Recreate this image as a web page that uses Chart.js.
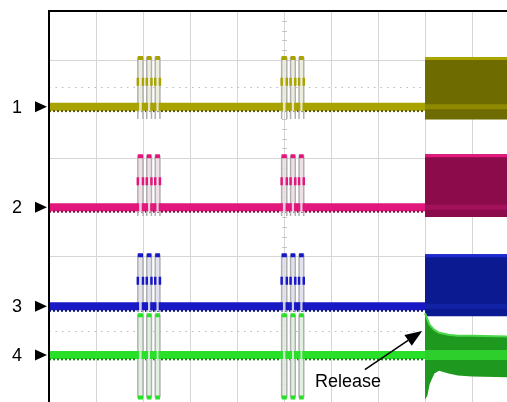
<!DOCTYPE html>
<html>
<head>
<meta charset="utf-8">
<script src="https://cdn.jsdelivr.net/npm/chart.js@4/dist/chart.umd.min.js"></script>
<style>
  html, body { margin: 0; padding: 0; background: #fff; overflow: hidden; width: 507px; height: 402px; }
  #wrap { position: absolute; left: 0; top: 0; width: 530px; height: 410px; }
</style>
</head>
<body>
<div id="wrap"><canvas id="scope" width="530" height="410"></canvas></div>
<script>
// Four-channel capture on a 10 x 8 division graticule (time and level in divisions).
const channelLabels = ['1', '2', '3', '4'];
const baselineLevel = [6.05, 4.00, 1.98, 0.99];
const pulseHigh = [7.04, 5.04, 3.02, 1.80];
const pulseMid = [6.56, 4.53, 2.50, 0.99];
const pulseLow = [5.80, 3.82, 1.86, 0.12];
const pulseStart = [1.89, 2.08, 2.26, 4.95, 5.14, 5.32];
const pulseEnd = [2.00, 2.18, 2.36, 5.06, 5.24, 5.42];
const releaseTime = 8.0;
const sweepEnd = 10;
const releaseTop = [7.06, 5.08, 3.04];
const releaseBottom = [5.79, 3.80, 1.78];
const ch4DecayTime = [8.0, 8.05, 8.1, 8.2, 8.3, 8.5, 8.7, 9.0, 10];
const ch4DecayTop = [1.84, 1.72, 1.60, 1.50, 1.44, 1.40, 1.38, 1.38, 1.36];
const ch4DecayBottom = [0.08, 0.16, 0.40, 0.61, 0.67, 0.61, 0.57, 0.55, 0.53];
const dottedLevels = [6.46, 1.48];
const noteText = 'Release';
const noteAt = { x: 5.66, y: 0.33 };
const arrowFrom = { x: 6.72, y: 0.69 };
const arrowTo = { x: 7.94, y: 1.48 };

const look = {
  trace:  ['#a9a300', '#e2177b', '#1818c4', '#28e028'],
  edge:   ['#5c5900', '#7e0a40', '#0a1470', '#128a12'],
  band:   ['#6e6b00', '#8c0b4a', '#0c1a92', '#1e981e'],
  rim:    ['#aaa400', '#e3177c', '#1c2ad2', '#4ad84a'],
  stripe: ['#8f8a00', '#a3105c', '#1222a6', '#2ccf2c'],
  pulse:  ['rgba(236,236,218,0.9)', 'rgba(238,222,230,0.9)', 'rgba(224,224,238,0.9)', 'rgba(222,238,222,0.9)'],
  pulseEdge: '#b0b0b0',
  grid: '#d6d6d6'
};

const datasets = [];
let drawOrder = 1000;
function add(ds) {
  datasets.push(Object.assign({
    pointRadius: 0, borderWidth: 1, fill: false, tension: 0,
    borderCapStyle: 'butt', spanGaps: false, order: drawOrder--
  }, ds));
}
const pt = (x, y) => ({ x, y });

channelLabels.forEach((name, c) => {
  const b = baselineLevel[c];

  // idle trace up to the release edge
  add({ data: [pt(0, b), pt(releaseTime, b)], borderColor: look.trace[c], borderWidth: 8 });
  add({ data: [pt(0, b - 0.09), pt(releaseTime, b - 0.09)], borderColor: look.edge[c], borderWidth: 2, borderDash: [2, 2] });

  // bursts
  const outline = [], caps = [], lowCaps = [], marks = [];
  pulseStart.forEach((s, i) => {
    const e = pulseEnd[i];
    outline.push(pt(s, pulseLow[c]), pt(s, pulseHigh[c]), pt(e, pulseHigh[c]), pt(e, pulseLow[c]), pt(e, null));
    caps.push(pt(s, pulseHigh[c]), pt(e, pulseHigh[c]), pt(e, null));
    lowCaps.push(pt(s, pulseLow[c]), pt(e, pulseLow[c]), pt(e, null));
    marks.push(pt(s, pulseMid[c]), pt(e, pulseMid[c]), pt(s, b), pt(e, b));
  });
  const floor = c === 3 ? pulseLow[c] : b - 0.1;
  add({ data: outline, borderColor: look.pulseEdge, borderWidth: 1.5, fill: { value: floor }, backgroundColor: look.pulse[c] });
  add({ data: caps, borderColor: look.trace[c], borderWidth: 4 });
  if (c === 3) add({ data: lowCaps, borderColor: look.trace[c], borderWidth: 4 });
  add({ data: marks, showLine: false, pointRadius: 4, pointStyle: 'line', rotation: 90,
        pointBorderColor: look.trace[c], pointBorderWidth: 2.5 });

  // activity after release
  if (c < 3) {
    add({ data: [pt(releaseTime, releaseTop[c]), pt(sweepEnd, releaseTop[c])], borderWidth: 0, borderColor: 'rgba(0,0,0,0)' });
    add({ data: [pt(releaseTime, releaseBottom[c]), pt(sweepEnd, releaseBottom[c])], borderWidth: 0, borderColor: 'rgba(0,0,0,0)',
          fill: '-1', backgroundColor: look.band[c] });
    add({ data: [pt(releaseTime, releaseTop[c] - 0.03), pt(sweepEnd, releaseTop[c] - 0.03)], borderColor: look.rim[c], borderWidth: 3 });
    add({ data: [pt(releaseTime, b), pt(sweepEnd, b)], borderColor: look.stripe[c], borderWidth: 5 });
  } else {
    add({ data: ch4DecayTime.map((t, i) => pt(t, ch4DecayTop[i])), borderWidth: 0, borderColor: 'rgba(0,0,0,0)' });
    add({ data: ch4DecayTime.map((t, i) => pt(t, ch4DecayBottom[i])), borderWidth: 0, borderColor: 'rgba(0,0,0,0)',
          fill: '-1', backgroundColor: look.band[c] });
    add({ data: ch4DecayTime.map((t, i) => pt(t, ch4DecayTop[i])), borderColor: look.rim[c], borderWidth: 2 });
    add({ data: [pt(releaseTime, b), pt(sweepEnd, b)], borderColor: look.stripe[c], borderWidth: 10 });
  }
});

const scopeDecor = {
  id: 'scopeDecor',
  beforeDatasetsDraw(chart) {
    const { ctx, chartArea: a, scales: { x, y } } = chart;
    ctx.save();
    ctx.strokeStyle = '#bcbcbc';
    ctx.lineWidth = 1;
    ctx.setLineDash([1.5, 5]);
    dottedLevels.forEach(v => {
      const py = Math.round(y.getPixelForValue(v)) + 0.5;
      ctx.beginPath();
      ctx.moveTo(a.left, py);
      ctx.lineTo(x.getPixelForValue(releaseTime), py);
      ctx.stroke();
    });
    ctx.setLineDash([]);
    // minor ticks along the centre axes
    ctx.strokeStyle = '#c4c4c4';
    const cx = Math.round(x.getPixelForValue(5)) + 0.5;
    const cy = Math.round(y.getPixelForValue(4)) + 0.5;
    ctx.beginPath();
    for (let i = 0; i <= 40; i++) {
      const py = Math.round(y.getPixelForValue(i / 5)) + 0.5;
      ctx.moveTo(cx - 2.5, py); ctx.lineTo(cx + 2.5, py);
    }
    for (let i = 0; i <= 50; i++) {
      const px = Math.round(x.getPixelForValue(i / 5)) + 0.5;
      ctx.moveTo(px, cy - 2.5); ctx.lineTo(px, cy + 2.5);
    }
    ctx.stroke();
    ctx.restore();
  },
  afterDatasetsDraw(chart) {
    const { ctx, chartArea: a, scales: { x, y } } = chart;
    ctx.save();
    // frame
    ctx.strokeStyle = '#000';
    ctx.lineWidth = 2;
    ctx.beginPath();
    ctx.moveTo(a.left, a.bottom + 10);
    ctx.lineTo(a.left, a.top);
    ctx.lineTo(a.right + 10, a.top);
    ctx.stroke();

    // channel markers
    ctx.fillStyle = '#000';
    ctx.font = '18px "Liberation Sans", Arial, sans-serif';
    ctx.textBaseline = 'middle';
    ctx.textAlign = 'left';
    channelLabels.forEach((name, c) => {
      const py = y.getPixelForValue(baselineLevel[c]);
      ctx.fillText(name, 12, py + 1);
      ctx.beginPath();
      ctx.moveTo(35, py - 5.5);
      ctx.lineTo(47, py);
      ctx.lineTo(35, py + 5.5);
      ctx.closePath();
      ctx.fill();
    });

    // release note with arrow
    const x0 = x.getPixelForValue(arrowFrom.x), y0 = y.getPixelForValue(arrowFrom.y);
    const x1 = x.getPixelForValue(arrowTo.x), y1 = y.getPixelForValue(arrowTo.y);
    const ang = Math.atan2(y1 - y0, x1 - x0);
    const headLen = 17, headHalf = 6.5;
    const bx = x1 - headLen * Math.cos(ang), by = y1 - headLen * Math.sin(ang);
    ctx.strokeStyle = '#000';
    ctx.lineWidth = 1.5;
    ctx.beginPath();
    ctx.moveTo(x0, y0);
    ctx.lineTo(bx, by);
    ctx.stroke();
    ctx.beginPath();
    ctx.moveTo(x1, y1);
    ctx.lineTo(bx + headHalf * Math.sin(ang), by - headHalf * Math.cos(ang));
    ctx.lineTo(bx - headHalf * Math.sin(ang), by + headHalf * Math.cos(ang));
    ctx.closePath();
    ctx.fill();

    ctx.textBaseline = 'alphabetic';
    ctx.fillText(noteText, x.getPixelForValue(noteAt.x), y.getPixelForValue(noteAt.y));
    ctx.restore();
  }
};

new Chart(document.getElementById('scope'), {
  type: 'line',
  data: { datasets },
  options: {
    responsive: false,
    animation: false,
    devicePixelRatio: 1,
    layout: { padding: { left: 49, top: 11, right: 11, bottom: 4 } },
    plugins: { legend: { display: false }, tooltip: { enabled: false } },
    scales: {
      x: { type: 'linear', min: 0, max: 10,
           ticks: { display: false, stepSize: 1 },
           grid: { color: look.grid, drawTicks: false, lineWidth: 1 },
           border: { display: false } },
      y: { type: 'linear', min: 0, max: 8,
           ticks: { display: false, stepSize: 1 },
           grid: { color: look.grid, drawTicks: false, lineWidth: 1 },
           border: { display: false } }
    }
  },
  plugins: [scopeDecor]
});
</script>
</body>
</html>
